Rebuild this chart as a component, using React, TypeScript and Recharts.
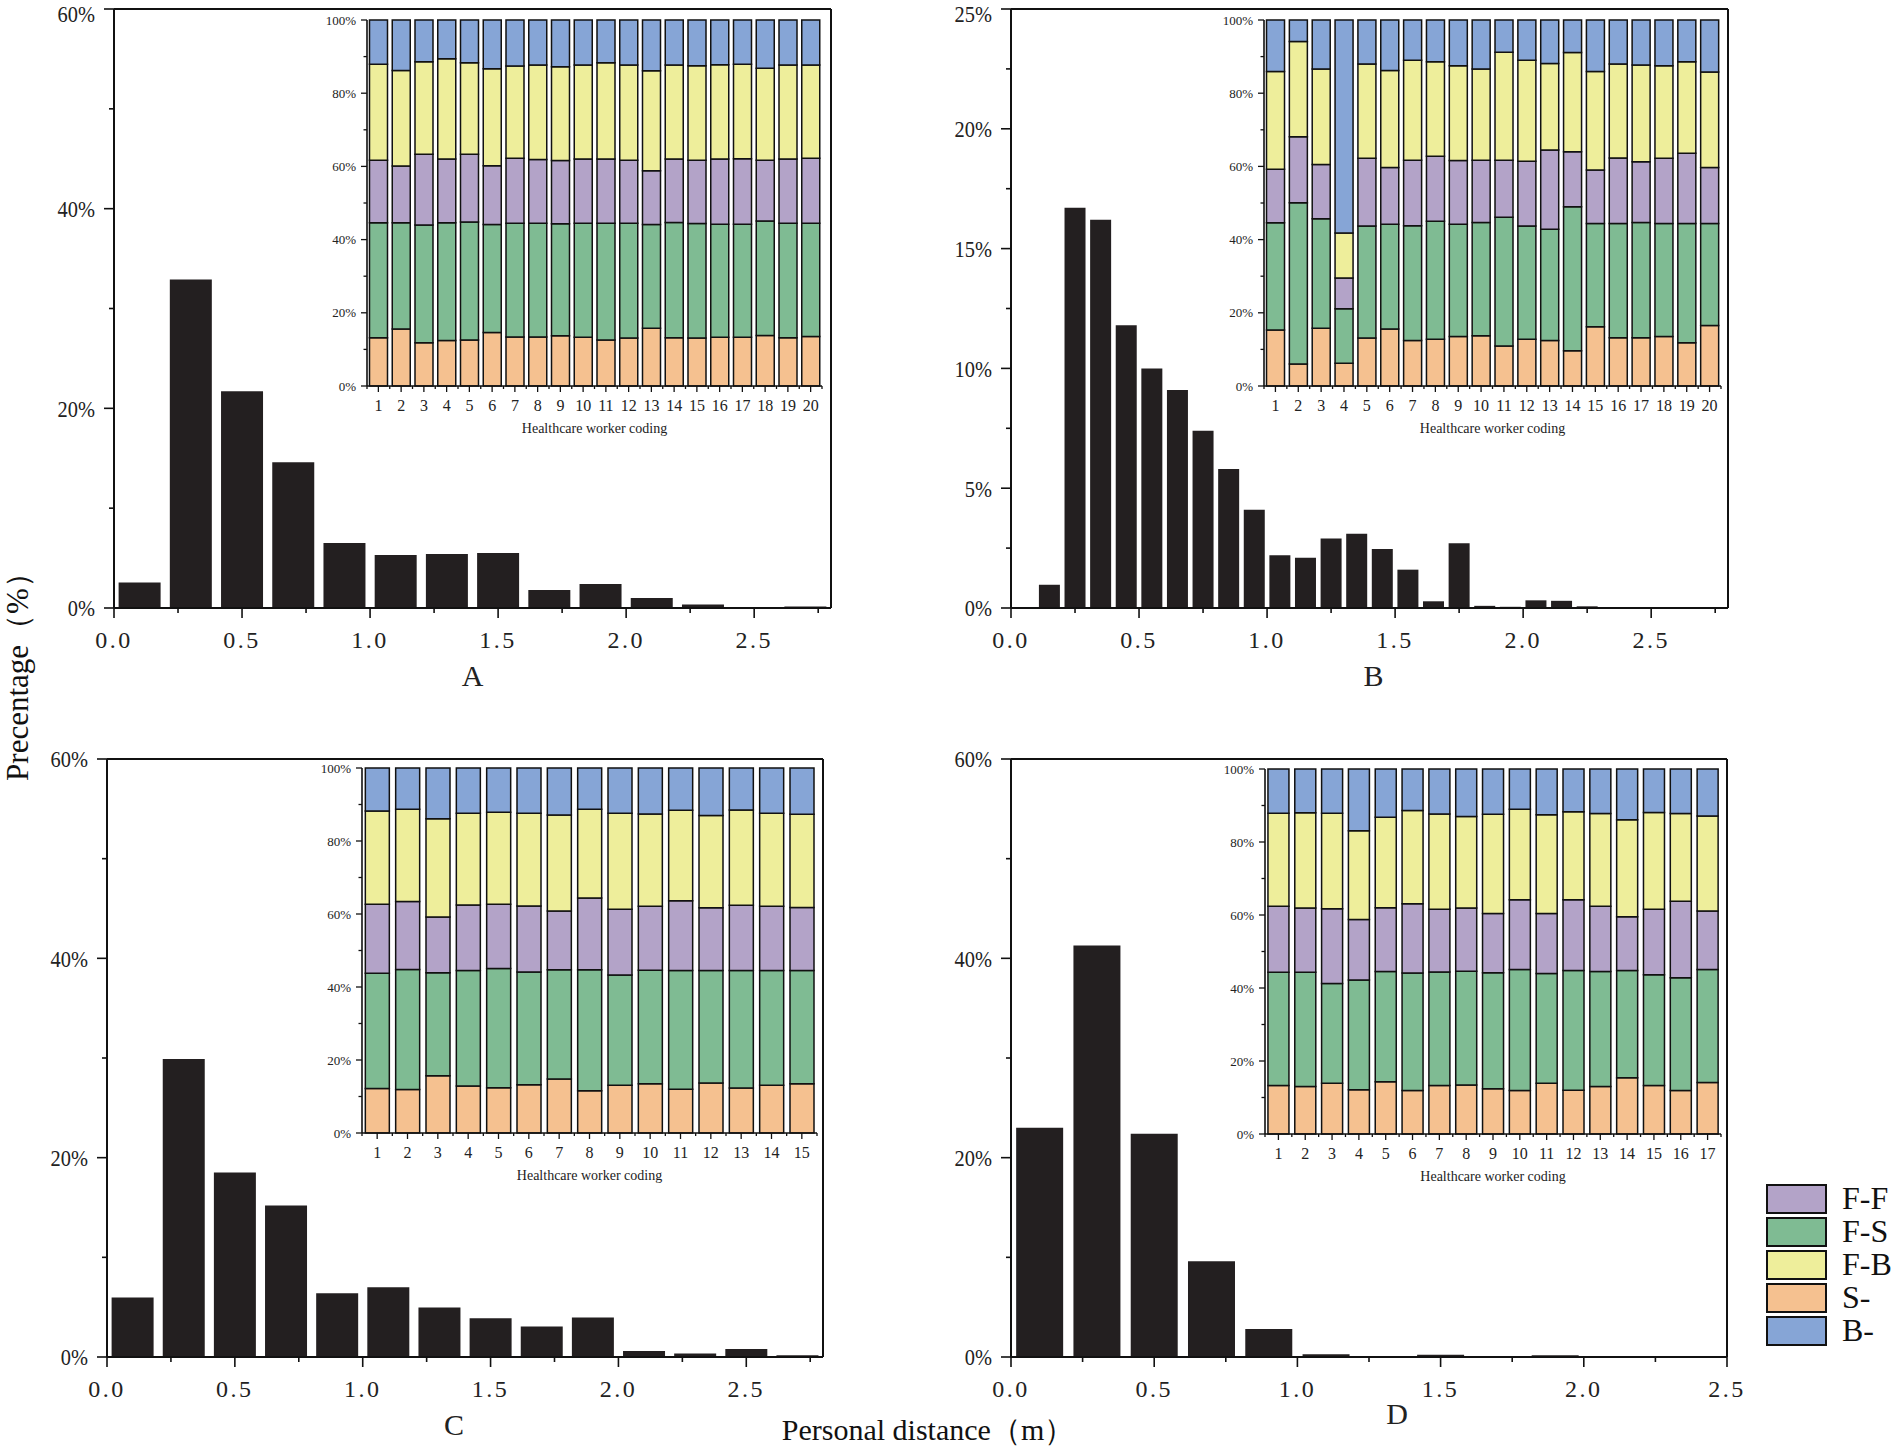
import React from 'react';
import { BarChart, Bar, XAxis, YAxis, ReferenceLine, Legend } from 'recharts';

// ---- main histograms: personal distance (m) -> share of contacts (%)
const binsA = [0.1, 0.3, 0.5, 0.7, 0.9, 1.1, 1.3, 1.5, 1.7, 1.9, 2.1, 2.3, 2.5, 2.7];
const pctA = [2.55, 32.9, 21.7, 14.6, 6.5, 5.3, 5.4, 5.5, 1.8, 2.4, 1.0, 0.35, 0.1, 0.15];

const binsB = [0.05, 0.15, 0.25, 0.35, 0.45, 0.55, 0.65, 0.75, 0.85, 0.95, 1.05, 1.15, 1.25, 1.35,
  1.45, 1.55, 1.65, 1.75, 1.85, 1.95, 2.05, 2.15, 2.25, 2.35, 2.45, 2.55, 2.65, 2.75];
const pctB = [0, 0.97, 16.7, 16.2, 11.8, 10.0, 9.1, 7.4, 5.8, 4.1, 2.2, 2.1, 2.9, 3.1,
  2.46, 1.6, 0.28, 2.7, 0.09, 0.05, 0.32, 0.3, 0.07, 0.02, 0.01, 0.02, 0.01, 0.02];

const binsC = [0.1, 0.3, 0.5, 0.7, 0.9, 1.1, 1.3, 1.5, 1.7, 1.9, 2.1, 2.3, 2.5, 2.7];
const pctC = [5.96, 29.9, 18.5, 15.2, 6.4, 7.0, 4.96, 3.9, 3.05, 3.96, 0.6, 0.36, 0.8, 0.18];

const binsD = [0.1, 0.3, 0.5, 0.7, 0.9, 1.1, 1.3, 1.5, 1.7, 1.9, 2.1, 2.3];
const pctD = [23.0, 41.3, 22.4, 9.6, 2.8, 0.27, 0.09, 0.23, 0.09, 0.18, 0.09, 0.09];

const distTicks = [0, 0.25, 0.5, 0.75, 1, 1.25, 1.5, 1.75, 2, 2.25, 2.5, 2.75];
const distTicksD = [0, 0.25, 0.5, 0.75, 1, 1.25, 1.5, 1.75, 2, 2.25, 2.5];
const pctTicks60 = [0, 10, 20, 30, 40, 50, 60];
const pctTicks25 = [0, 2.5, 5, 7.5, 10, 12.5, 15, 17.5, 20, 22.5, 25];

// ---- insets: contact type share per healthcare worker (%)
const codesA = [1, 2, 3, 4, 5, 6, 7, 8, 9, 10, 11, 12, 13, 14, 15, 16, 17, 18, 19, 20];
const sA = [13.2, 15.6, 11.8, 12.4, 12.6, 14.6, 13.4, 13.4, 13.7, 13.3, 12.6, 13.1, 15.8, 13.2, 13.1, 13.3, 13.3, 13.8, 13.2, 13.5];
const fsA = [31.4, 29.0, 32.2, 32.2, 32.2, 29.5, 31.1, 31.1, 30.6, 31.2, 31.9, 31.4, 28.3, 31.5, 31.3, 30.9, 30.9, 31.3, 31.3, 31.0];
const ffA = [17.1, 15.5, 19.3, 17.4, 18.5, 16.1, 17.7, 17.4, 17.3, 17.5, 17.5, 17.2, 14.7, 17.3, 17.3, 17.8, 17.9, 16.6, 17.5, 17.7];
const fbA = [26.2, 26.1, 25.3, 27.4, 25.0, 26.5, 25.2, 25.8, 25.6, 25.7, 26.3, 26.0, 27.3, 25.7, 25.8, 25.8, 25.8, 25.1, 25.7, 25.5];
const bA = [12.1, 13.8, 11.4, 10.6, 11.7, 13.3, 12.6, 12.3, 12.8, 12.3, 11.7, 12.3, 13.9, 12.3, 12.5, 12.2, 12.1, 13.2, 12.3, 12.3];

const codesB = [1, 2, 3, 4, 5, 6, 7, 8, 9, 10, 11, 12, 13, 14, 15, 16, 17, 18, 19, 20];
const sB = [15.3, 6.0, 15.8, 6.2, 13.1, 15.6, 12.4, 12.8, 13.5, 13.7, 10.9, 12.8, 12.4, 9.6, 16.2, 13.2, 13.2, 13.5, 11.8, 16.5];
const fsB = [29.3, 44.1, 29.9, 14.9, 30.6, 28.6, 31.4, 32.2, 30.7, 31.0, 35.2, 30.9, 30.4, 39.4, 28.2, 31.2, 31.5, 30.9, 32.6, 27.9];
const ffB = [14.6, 18.0, 14.8, 8.4, 18.5, 15.5, 17.9, 17.8, 17.4, 17.0, 15.6, 17.7, 21.7, 15.0, 14.6, 17.9, 16.6, 17.8, 19.2, 15.3];
const fbB = [26.7, 26.0, 26.1, 12.3, 25.8, 26.5, 27.3, 25.8, 25.9, 24.9, 29.5, 27.6, 23.6, 27.1, 26.9, 25.7, 26.4, 25.3, 25.0, 26.1];
const bB = [14.1, 5.9, 13.4, 58.2, 12.0, 13.8, 11.0, 11.4, 12.5, 13.4, 8.8, 11.0, 11.9, 8.9, 14.1, 12.0, 12.3, 12.5, 11.4, 14.2];

const codesC = [1, 2, 3, 4, 5, 6, 7, 8, 9, 10, 11, 12, 13, 14, 15];
const sC = [12.2, 11.9, 15.7, 12.9, 12.4, 13.2, 14.8, 11.6, 13.1, 13.5, 12.0, 13.7, 12.3, 13.1, 13.5];
const fsC = [31.6, 32.9, 28.2, 31.6, 32.7, 30.9, 29.9, 33.1, 30.2, 31.1, 32.5, 30.8, 32.2, 31.4, 31.0];
const ffC = [18.9, 18.6, 15.3, 18.0, 17.6, 18.1, 16.1, 19.7, 18.0, 17.5, 19.1, 17.2, 17.9, 17.6, 17.3];
const fbC = [25.5, 25.3, 26.9, 25.1, 25.2, 25.4, 26.3, 24.3, 26.3, 25.3, 24.8, 25.3, 26.1, 25.5, 25.5];
const bC = [11.8, 11.3, 13.9, 12.4, 12.1, 12.4, 12.9, 11.3, 12.4, 12.6, 11.6, 13.0, 11.5, 12.4, 12.7];

const codesD = [1, 2, 3, 4, 5, 6, 7, 8, 9, 10, 11, 12, 13, 14, 15, 16, 17];
const sD = [13.3, 13.0, 13.9, 12.1, 14.3, 11.9, 13.3, 13.4, 12.4, 11.9, 13.9, 12.0, 13.0, 15.4, 13.3, 11.9, 14.1];
const fsD = [31.0, 31.3, 27.3, 30.1, 30.2, 32.2, 31.1, 31.2, 31.8, 33.2, 30.1, 32.8, 31.5, 29.4, 30.3, 30.9, 31.0];
const ffD = [18.1, 17.6, 20.5, 16.6, 17.5, 19.0, 17.2, 17.3, 16.2, 19.1, 16.4, 19.4, 17.9, 14.7, 18.0, 21.0, 16.0];
const fbD = [25.5, 26.1, 26.2, 24.3, 24.8, 25.5, 26.1, 25.1, 27.2, 24.8, 27.1, 24.1, 25.4, 26.6, 26.5, 24.0, 26.0];
const bD = [12.1, 12.0, 12.1, 16.9, 13.2, 11.4, 12.3, 13.0, 12.4, 11.0, 12.5, 11.7, 12.2, 13.9, 11.9, 12.2, 12.9];

const shareTicks = [0, 10, 20, 30, 40, 50, 60, 70, 80, 90, 100];
const legendOrder = ['F-F', 'F-S', 'F-B', 'S-', 'B-'];

const SERIF = '"Liberation Serif", "Times New Roman", serif';
const INK = '#111';
const BAR_BLACK = '#231f20';
const C_S = '#f5c190';
const C_FS = '#7fbb93';
const C_FF = '#b3a3c8';
const C_FB = '#eeee9b';
const C_B = '#86a5d6';

const isStep = (v: number, step: number) => Math.abs(v / step - Math.round(v / step)) < 1e-6;

const DistTick = (props: any) => {
  const { x, y, payload } = props;
  const major = isStep(payload.value, 0.5);
  return (
    <g>
      <line x1={x} x2={x} y1={y} y2={y + (major ? 10 : 5)} stroke={INK} strokeWidth={1.6} />
      {major && (
        <text x={x} y={y + 40} textAnchor="middle" fontFamily={SERIF} fontSize={24} letterSpacing={2.5} fill="#222">
          {Number(payload.value).toFixed(1)}
        </text>
      )}
    </g>
  );
};

const makePctTick = (step: number) => (props: any) => {
  const { x, y, payload } = props;
  const major = isStep(payload.value, step);
  // keep the topmost label inside the picture
  const ty = Math.max(y, 14);
  return (
    <g>
      <line x1={x} x2={x - (major ? 10 : 5)} y1={y} y2={y} stroke={INK} strokeWidth={1.6} />
      {major && (
        <text transform={`translate(${x - 19},${ty}) scale(0.85,1)`} textAnchor="end" dy="0.35em"
          fontFamily={SERIF} fontSize={24} fill="#222">
          {`${payload.value}%`}
        </text>
      )}
    </g>
  );
};

const CodeTick = (props: any) => {
  const { x, y, payload } = props;
  const major = isStep(payload.value, 1);
  return (
    <g>
      <line x1={x} x2={x} y1={y} y2={y + (major ? 6 : 3)} stroke={INK} strokeWidth={1.3} />
      {major && (
        <text x={x} y={y + 25} textAnchor="middle" fontFamily={SERIF} fontSize={16} fill="#222">
          {payload.value}
        </text>
      )}
    </g>
  );
};

const ShareTick = (props: any) => {
  const { x, y, payload } = props;
  const major = isStep(payload.value, 20);
  return (
    <g>
      <line x1={x} x2={x - (major ? 6 : 3.5)} y1={y} y2={y} stroke={INK} strokeWidth={1.3} />
      {major && (
        <text x={x - 11} y={y} dy="0.35em" textAnchor="end" fontFamily={SERIF} fontSize={13} fill="#222">
          {`${payload.value}%`}
        </text>
      )}
    </g>
  );
};

const renderLegend = (props: any) => {
  const items = props.payload || [];
  const fillOf = (name: string) => {
    const hit = items.find((p: any) => p.value === name);
    return hit ? (hit.payload?.fill ?? hit.color) : '#fff';
  };
  return (
    <div>
      {legendOrder.map((name) => (
        <div key={name} style={{ display: 'flex', alignItems: 'center', height: 33 }}>
          <span style={{ display: 'inline-block', width: 57, height: 26, background: fillOf(name), border: '2px solid #111' }} />
          <span style={{ marginLeft: 15, fontFamily: SERIF, fontSize: 32, lineHeight: '33px', color: '#111' }}>{name}</span>
        </div>
      ))}
    </div>
  );
};

interface MainProps {
  bins: number[]; pct: number[]; xMax: number; xTicks: number[]; yMax: number; yTicks: number[]; yStep: number;
  letter: string; letterDx: number; letterOffset: number;
  left: number; top: number; width: number; height: number; mt: number; mr: number; yw: number; xh: number;
}

function MainPanel(p: MainProps) {
  const data = p.bins.map((x, i) => ({ x, pct: p.pct[i] }));
  const PctTick = makePctTick(p.yStep);
  return (
    <div style={{ position: 'absolute', left: p.left, top: p.top }}>
      <BarChart width={p.width} height={p.height} data={data} barCategoryGap="9%"
        margin={{ top: p.mt, right: p.mr, left: 0, bottom: 0 }}>
        <XAxis dataKey="x" type="number" domain={[0, p.xMax]} ticks={p.xTicks} interval={0} height={p.xh}
          tickSize={0} tickMargin={0} tickLine={false} tick={<DistTick />}
          axisLine={{ stroke: INK, strokeWidth: 2 }}
          label={{ value: p.letter, position: 'insideTop', offset: p.letterOffset, dx: p.letterDx, fontSize: 30, fontFamily: SERIF, fill: '#222' }} />
        <YAxis type="number" domain={[0, p.yMax]} ticks={p.yTicks} interval={0} width={p.yw}
          tickSize={0} tickMargin={0} tickLine={false} tick={<PctTick />}
          axisLine={{ stroke: INK, strokeWidth: 2 }} />
        <ReferenceLine y={p.yMax} stroke={INK} strokeWidth={2} />
        <ReferenceLine x={p.xMax} stroke={INK} strokeWidth={2} />
        <Bar dataKey="pct" fill={BAR_BLACK} isAnimationActive={false} />
      </BarChart>
    </div>
  );
}

interface InsetProps {
  codes: number[]; s: number[]; fs: number[]; ff: number[]; fb: number[]; b: number[];
  left: number; top: number; mt: number; mr: number; yw: number; xh: number; legend?: boolean;
}

function InsetPanel(p: InsetProps) {
  const data = p.codes.map((code, i) => ({ code, s: p.s[i], fs: p.fs[i], ff: p.ff[i], fb: p.fb[i], b: p.b[i] }));
  const n = p.codes.length;
  const ticks = p.codes.flatMap((c) => [c - 0.5, c]).concat([n + 0.5]);
  const seg = { stackId: 'share', stroke: INK, strokeWidth: 1.5, isAnimationActive: false };
  return (
    <div style={{ position: 'absolute', left: p.left, top: p.top }}>
      <BarChart width={540} height={460} data={data} barCategoryGap="11%"
        margin={{ top: p.mt, right: p.mr, left: 0, bottom: 0 }}>
        <XAxis dataKey="code" type="number" domain={[0.5, n + 0.5]} ticks={ticks} interval={0} height={p.xh}
          tickSize={0} tickMargin={0} tickLine={false} tick={<CodeTick />}
          axisLine={{ stroke: INK, strokeWidth: 1.6 }}
          label={{ value: 'Healthcare worker coding', position: 'insideTop', offset: 37, fontSize: 14, fontFamily: SERIF, fill: '#222' }} />
        <YAxis type="number" domain={[0, 100]} ticks={shareTicks} interval={0} width={p.yw}
          tickSize={0} tickMargin={0} tickLine={false} tick={<ShareTick />}
          axisLine={{ stroke: INK, strokeWidth: 1.6 }} />
        <Bar dataKey="s" name="S-" fill={C_S} {...seg} />
        <Bar dataKey="fs" name="F-S" fill={C_FS} {...seg} />
        <Bar dataKey="ff" name="F-F" fill={C_FF} {...seg} />
        <Bar dataKey="fb" name="F-B" fill={C_FB} {...seg} />
        <Bar dataKey="b" name="B-" fill={C_B} {...seg} />
        {p.legend && (
          <Legend layout="vertical" align="center" verticalAlign="middle" content={renderLegend}
            wrapperStyle={{ left: 566, top: 442, width: 140 }} />
        )}
      </BarChart>
    </div>
  );
}

export default function App() {
  return (
    <div style={{ position: 'absolute', left: 0, top: 0, width: 1904, height: 1450, background: '#fff', overflow: 'hidden' }}>
      <MainPanel bins={binsA} pct={pctA} xMax={2.8} xTicks={distTicks} yMax={60} yTicks={pctTicks60} yStep={20}
        letter="A" letterDx={0} letterOffset={57}
        left={0} top={0} width={860} height={720} mt={9} mr={29} yw={114} xh={112} />
      <MainPanel bins={binsB} pct={pctB} xMax={2.8} xTicks={distTicks} yMax={25} yTicks={pctTicks25} yStep={5}
        letter="B" letterDx={4} letterOffset={57}
        left={900} top={0} width={860} height={720} mt={9} mr={32} yw={111} xh={112} />
      <MainPanel bins={binsC} pct={pctC} xMax={2.8} xTicks={distTicks} yMax={60} yTicks={pctTicks60} yStep={20}
        letter="C" letterDx={-11} letterOffset={57}
        left={0} top={740} width={860} height={710} mt={19} mr={37} yw={107} xh={93} />
      <MainPanel bins={binsD} pct={pctD} xMax={2.5} xTicks={distTicksD} yMax={60} yTicks={pctTicks60} yStep={20}
        letter="D" letterDx={28} letterOffset={46}
        left={900} top={740} width={860} height={710} mt={19} mr={33} yw={111} xh={93} />

      <InsetPanel codes={codesA} s={sA} fs={fsA} ff={ffA} fb={fbA} b={bA}
        left={300} top={0} mt={20} mr={18} yw={67} xh={74} />
      <InsetPanel codes={codesB} s={sB} fs={fsB} ff={ffB} fb={fbB} b={bB}
        left={1200} top={0} mt={20} mr={19} yw={64} xh={74} />
      <InsetPanel codes={codesC} s={sC} fs={fsC} ff={ffC} fb={fbC} b={bC}
        left={300} top={740} mt={28} mr={23} yw={62} xh={67} />
      <InsetPanel codes={codesD} s={sD} fs={fsD} ff={ffD} fb={fbD} b={bD}
        left={1200} top={740} mt={29} mr={19} yw={65} xh={66} legend />

      <div style={{ position: 'absolute', left: 18, top: 669, transform: 'translate(-50%, -50%) rotate(-90deg)',
        whiteSpace: 'nowrap', fontFamily: SERIF, fontSize: 31, color: '#111' }}>
        Precentage（%）
      </div>
      <div style={{ position: 'absolute', left: 928, top: 1430, transform: 'translate(-50%, -50%)',
        whiteSpace: 'nowrap', fontFamily: SERIF, fontSize: 30, color: '#111' }}>
        Personal distance（m）
      </div>
    </div>
  );
}
